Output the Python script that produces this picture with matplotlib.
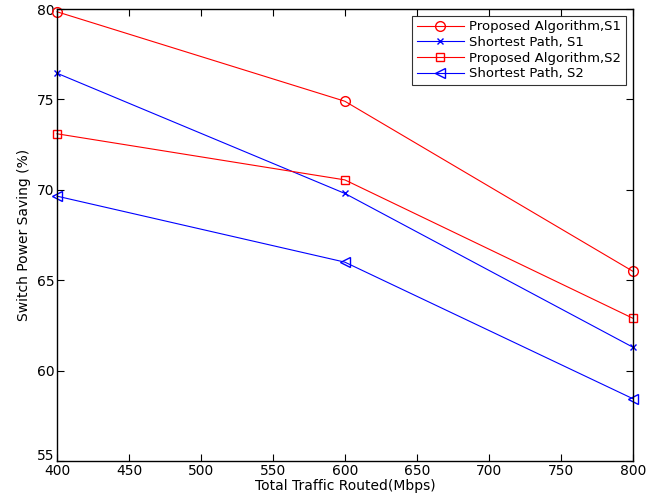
import matplotlib
matplotlib.use("Agg")
import matplotlib.pyplot as plt
import matplotlib.transforms as mtransforms

traffic = [400, 600, 800]
pa_s1 = [79.85, 74.9, 65.5]
sp_s1 = [76.45, 69.8, 61.3]
pa_s2 = [73.1, 70.55, 62.9]
sp_s2 = [69.65, 66.0, 58.45]

labels = ["Proposed Algorithm,S1", "Shortest Path, S1",
          "Proposed Algorithm,S2", "Shortest Path, S2"]
xticks = [400, 450, 500, 550, 600, 650, 700, 750, 800]
yticks = [55, 60, 65, 70, 75, 80]

plt.rcParams['font.family'] = ['DejaVu Sans']
fig = plt.figure(figsize=(6.66, 5.03), dpi=100)
ax = fig.add_axes([0.0856, 0.0835, 0.8644, 0.8985])

ax.plot(traffic, pa_s1, color='red', marker='o', mfc='none', ms=7, lw=0.8, label=labels[0], clip_on=False)
ax.plot(traffic, sp_s1, color='blue', marker='x', ms=5, lw=0.8, label=labels[1], clip_on=False)
ax.plot(traffic, pa_s2, color='red', marker='s', mfc='none', ms=6, lw=0.8, label=labels[2], clip_on=False)
ax.plot(traffic, sp_s2, color='blue', marker='<', mfc='none', ms=7, lw=0.8, label=labels[3], clip_on=False)

ax.set_xlim(400, 800)
ax.set_ylim(55, 80)
ax.set_xticks(xticks)
ax.set_yticks(yticks)
ax.tick_params(direction='in', top=True, right=True, length=5, width=0.8, labelsize=10, pad=2)
for s in ax.spines.values():
    s.set_linewidth(1.0)
ax.set_xlabel("Total Traffic Routed(Mbps)", fontsize=10, labelpad=1)
ax.set_ylabel("Switch Power Saving (%)", fontsize=10, labelpad=4)

# lift the bottom y tick label slightly, as in the reference
fig.canvas.draw()
lbl = ax.get_yticklabels()[0]
lbl.set_transform(lbl.get_transform() + mtransforms.ScaledTranslation(0, 5 / 72, fig.dpi_scale_trans))

leg = ax.legend(loc='upper right', fontsize=9.5, frameon=True, fancybox=False,
                edgecolor='black', borderpad=0.35, labelspacing=0.2,
                handlelength=3.6, handletextpad=0.4, borderaxespad=0.5)
leg.get_frame().set_linewidth(0.8)

fig.savefig("out.png", dpi=100)
